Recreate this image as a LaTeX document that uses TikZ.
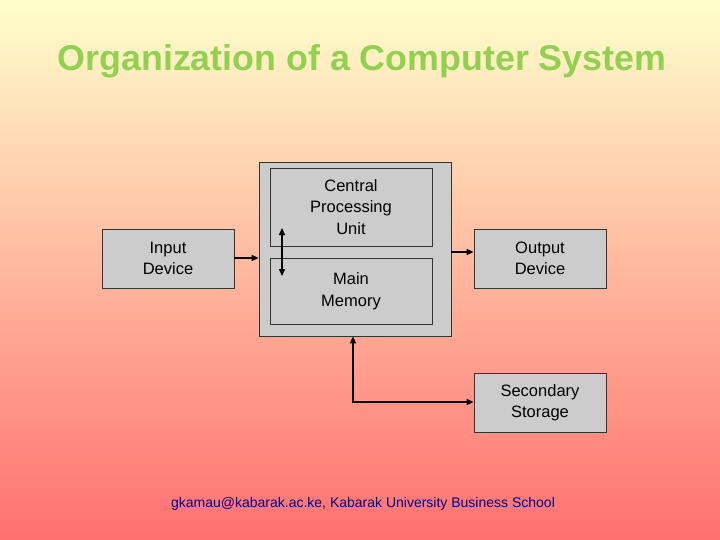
\documentclass[tikz,border=0pt]{standalone}
\usepackage{fontspec}
\setmainfont{Liberation Sans}
\usetikzlibrary{arrows.meta}
\definecolor{bgtop}{RGB}{255,255,204}
\definecolor{bgbot}{RGB}{255,112,112}
\definecolor{titlegreen}{RGB}{146,208,80}
\definecolor{boxgray}{RGB}{204,204,204}
\definecolor{footblue}{RGB}{0,0,140}
\begin{document}
\begin{tikzpicture}[x=1pt,y=-1pt,
  box/.style={draw=black!80,fill=boxgray,line width=0.8pt,align=center,font=\fontsize{16.5}{21.5}\selectfont},
  conn/.style={line width=1.5pt,-{Triangle[length=7pt,width=6pt]}},
  conn2/.style={line width=1.5pt,{Triangle[length=7pt,width=6pt]}-{Triangle[length=7pt,width=6pt]}}]
\shade[top color=bgtop,bottom color=bgbot] (0,0) rectangle (720,540);
\useasboundingbox (0,0) rectangle (720,540);
\node (title) at (362,61) {\textcolor{titlegreen}{\fontsize{35.8}{42}\selectfont\bfseries Organization of a Computer System}};
\node[draw=black!80,fill=boxgray,line width=0.8pt,minimum width=192pt,minimum height=174pt] (outer) at (355,249) {};
\node[box,minimum width=162pt,minimum height=78pt] (cpu) at (351,207) {Central\\Processing\\Unit};
\node[box,minimum width=162pt,minimum height=66pt] (mem) at (351,291) {Main\\Memory};
\node[box,minimum width=132pt,minimum height=59pt] (in) at (168,258.5) {Input\\Device};
\node[box,minimum width=132pt,minimum height=59pt] (out) at (540,258.5) {Output\\Device};
\node[box,minimum width=132pt,minimum height=59pt] (sec) at (540,402.5) {Secondary\\Storage};
\coordinate (c1) at (282,228);
\coordinate (c2) at (282,276);
\draw[conn2] (c1) -- (c2);
\draw[conn] (in.east |- 0,258) -- (outer.west |- 0,258);
\draw[conn] (outer.east |- 0,252) -- (out.west |- 0,252);
\coordinate (k) at (353,402);
\draw[conn2] (outer.south -| k) -- (k) -- (sec.west |- k);
\node (foot) at (363,504) {\fontsize{14}{16}\selectfont\color{footblue}gkamau@kabarak.ac.ke, Kabarak University Business School};
\end{tikzpicture}
\end{document}
